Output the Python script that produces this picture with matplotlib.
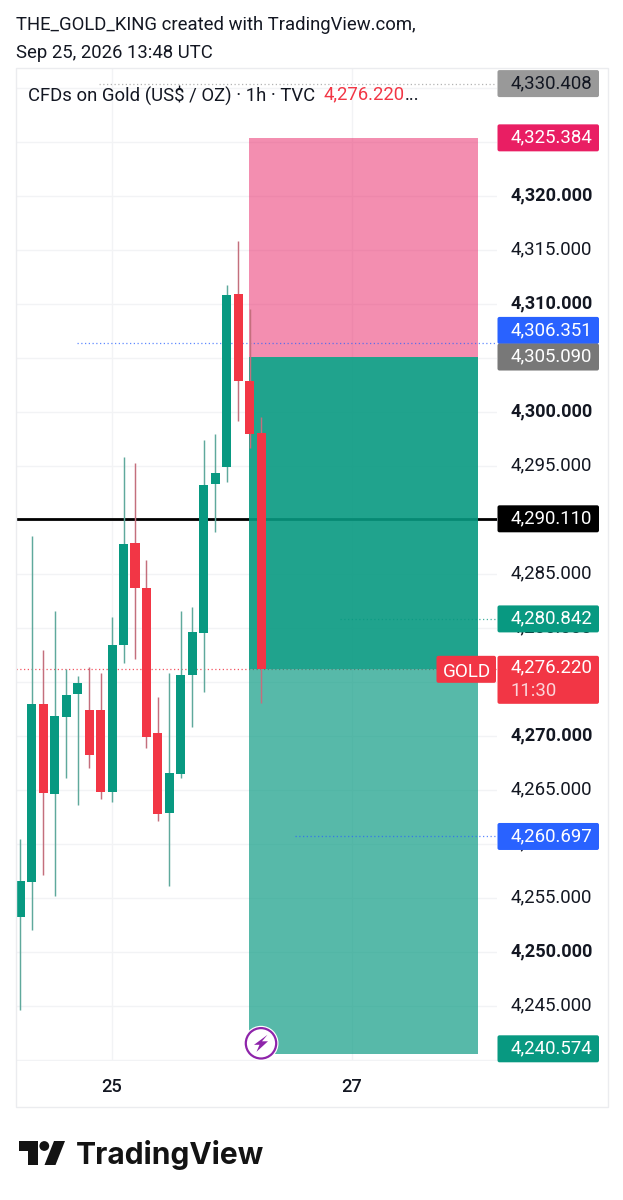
import matplotlib
matplotlib.use("Agg")
import matplotlib.pyplot as plt
from matplotlib.patches import FancyBboxPatch, Circle, Polygon, Rectangle
from matplotlib.transforms import ScaledTranslation

plt.rcParams['font.family'] = ['Roboto', 'DejaVu Sans']

# ---- data ----
opens  = [4253.24,4256.45,4272.94,4264.66,4271.73,4273.89,4272.38,4272.38,4264.81,4278.43,4287.84,
          4283.73,4270.25,4262.90,4266.48,4275.68,4279.51,4293.33,4294.88,4310.93,4302.90,4298.02]
highs  = [4260.49,4288.52,4277.94,4281.60,4276.18,4275.58,4276.42,4275.86,4280.99,4295.81,4295.31,
          4286.30,4273.58,4275.81,4281.60,4281.91,4297.41,4297.93,4311.73,4315.83,4309.54,4299.56]
lows   = [4244.63,4252.01,4257.10,4255.21,4266.08,4263.58,4267.01,4264.14,4263.89,4276.73,4277.13,
          4268.92,4262.16,4256.14,4266.08,4270.86,4274.07,4288.92,4293.49,4299.19,4296.64,4273.03]
closes = [4256.57,4272.99,4264.75,4271.85,4273.82,4274.91,4268.24,4264.81,4278.40,4287.78,4283.67,
          4269.91,4262.75,4266.57,4275.65,4279.63,4293.24,4294.32,4310.83,4302.87,4297.99,4276.22]
tool_left, tool_right = 19.94, 39.9
tool_top, tool_entry, tool_current, tool_bottom = 4325.384, 4305.090, 4276.220, 4240.574
hline_level = 4290.110
price_ticks = [4240 + 5 * i for i in range(19)]
bold_ticks = [4250, 4270, 4300, 4310, 4320]
hidden_ticks = [4240, 4275, 4290, 4305, 4325, 4330]   # covered by the price tags in the reference
date_positions = [8, 28.88]
date_labels = ['25', '27']
# level, label bg, text colour, line colour, line start (bar index), label shift in px
level_tags = [
    (4330.408, '#999999', '#131722', '#9a9a9a', 6.86, 0),
    (4325.384, '#E91E63', '#ffffff', None, None, 0),
    (4306.351, '#2962FF', '#ffffff', '#2962FF', 4.94, -13),
    (4305.090, '#787878', '#ffffff', None, None, 0),
    (4290.110, '#000000', '#ffffff', None, None, 0),
    (4280.842, '#089981', '#ffffff', '#089981', 27.9, 0),
    (4260.697, '#2962FF', '#ffffff', '#2962FF', 23.95, 0),
    (4240.574, '#089981', '#ffffff', None, None, -5),
]
last_price = 4276.220

GREEN, RED = '#089981', '#F23645'
GREEN_W, RED_W = '#5fa99c', '#c46f7d'

fig = plt.figure(figsize=(6.23, 12), dpi=100, facecolor='white')
W, H = 623, 1200
def axbox(l, t, r, b):
    return [l / W, 1 - b / H, (r - l) / W, (b - t) / H]

PX_PER_UNIT, X0, DX = 10.8, 20.3, 11.47
ax = fig.add_axes(axbox(16, 68, 497, 1061))
ax.set_xlim((16 - X0) / DX, (497 - X0) / DX)
ax.set_ylim(4290 - (1061 - 520) / PX_PER_UNIT, 4290 + (520 - 68) / PX_PER_UNIT)
ax.set_axisbelow(True)
for s in ax.spines.values():
    s.set_visible(False)
ax.yaxis.tick_right()
ax.set_yticks(price_ticks)
ax.set_yticklabels(['' if t in hidden_ticks else f'{t:,.3f}' for t in price_ticks], fontsize=13.4, color='#131722')
for t, lab in zip(price_ticks, ax.get_yticklabels()):
    if t in bold_ticks:
        lab.set_fontweight('bold')
        lab.set_fontsize(13.1)
ax.set_xticks(date_positions)
ax.set_xticklabels(date_labels, fontsize=13.2, color='#131722', fontweight='medium')
ax.tick_params(axis='both', length=0)
ax.tick_params(axis='y', pad=10)
ax.tick_params(axis='x', pad=12)
ax.grid(True, color='#F2F3F5', linewidth=1)
lift = ScaledTranslation(0, 3 / 100, fig.dpi_scale_trans)
for tk in ax.yaxis.get_major_ticks():
    tk.label2.set_transform(tk.label2.get_transform() + lift)

# horizontal black level and price tool
ax.axhline(hline_level, color='black', linewidth=2.0, zorder=1.5)
ax.fill_between([tool_left, tool_right], tool_entry, tool_top, color='#E91E63', alpha=0.5, lw=0, zorder=2)
ax.fill_between([tool_left, tool_right], tool_current, tool_entry, color='#089981', alpha=0.9, lw=0, zorder=2)
ax.fill_between([tool_left, tool_right], tool_bottom, tool_current, color='#089981', alpha=0.68, lw=0, zorder=2)

# dotted level lines
for lvl, _, _, lc, start, _ in level_tags:
    if lc:
        ax.plot([start, ax.get_xlim()[1]], [lvl, lvl], color=lc, lw=0.9, alpha=0.75, ls=(0, (1, 2)), zorder=2.2)
ax.axhline(last_price, color=RED, lw=0.9, alpha=0.85, ls=(0, (1, 2)), zorder=1.8)

# candles
xs = list(range(len(opens)))
for i in xs:
    up = closes[i] >= opens[i]
    ax.vlines(i, lows[i], highs[i], color=GREEN_W if up else RED_W, lw=1.05, zorder=3)
    ax.bar(i, abs(closes[i] - opens[i]), bottom=min(opens[i], closes[i]), width=0.79,
           color=GREEN if up else RED, lw=0, zorder=3.2)

# overlay in pixel coordinates
ov = fig.add_axes([0, 0, 1, 1], facecolor='none')
ov.set_xlim(0, W); ov.set_ylim(H, 0); ov.axis('off')
def ypx(p):
    return 520 - (p - 4290) * PX_PER_UNIT

# panel border
ov.add_patch(Rectangle((15.5, 68), 592, 1039, fill=False, ec='#EBECEF', lw=1))

def tag(x0, x1, y0, y1, col, z=5):
    ov.add_patch(FancyBboxPatch((x0 + 2, y0 + 2), x1 - x0 - 4, y1 - y0 - 4,
                                boxstyle='round,pad=2,rounding_size=2', fc=col, ec='none', zorder=z))

TAGFS = 13.4
for n, (lvl, bg, fg, _, _, shift) in enumerate(level_tags):
    y = ypx(lvl) + shift
    tag(497.5, 599, y - 13.5, y + 13.5, bg, 5 + n * 0.01)
    ov.text(592, y - 2.2, f'{lvl:,.3f}', color=fg, fontsize=TAGFS, ha='right', va='center_baseline', zorder=6)

# last price + symbol tag
y = ypx(last_price)
tag(436.5, 496, y - 13, y + 14, RED)
ov.text(466.5, y + 1, 'GOLD', color='white', fontsize=13.6, ha='center', va='center_baseline', zorder=6)
tag(497.5, 599, y - 13, y + 35, RED)
ov.text(592, y - 3, f'{last_price:,.3f}', color='white', fontsize=TAGFS, ha='right', va='center_baseline', zorder=6)
ov.text(511, y + 20, '11:30', color='#fbd5da', fontsize=TAGFS, ha='left', va='center_baseline', zorder=6)

# header
HFS = 13.3
ov.text(16, 23.5, 'THE_GOLD_KING created with TradingView.com,', fontsize=HFS, color='#131722', va='center_baseline')
ov.text(16, 50.5, 'Sep 25, 2026 13:48 UTC', fontsize=HFS, color='#131722', va='center_baseline')
ov.text(28, 92.5, 'CFDs on Gold (US$ / OZ) · 1h · TVC', fontsize=HFS, color='#131722', va='center_baseline')
ov.text(323, 92.5, f'{last_price:,.3f}', fontsize=HFS, color=RED, va='center_baseline')
ov.text(405, 92.5, '...', fontsize=HFS, color='#131722', va='center_baseline')

# lightning badge
cx, cy = 261, 1043.3
ov.add_patch(Circle((cx, cy), 17.5, fc='white', ec='none', zorder=6))
ov.add_patch(Circle((cx, cy), 15.2, fc='white', ec='#8E24AA', lw=1.6, zorder=7))
ov.add_patch(Polygon([(cx + 6.5, cy - 8.5), (cx - 7, cy + 1.5), (cx - 1.5, cy + 1.5), (cx - 4.5, cy + 8.5),
                      (cx + 7, cy - 2), (cx + 1, cy - 2)], fc='#8E24AA', ec='none', zorder=8))

# logo
LOGO = '#131313'
ov.add_patch(Polygon([(18.5, 1141), (38, 1141), (38, 1165), (28, 1165), (28, 1151), (18.5, 1151)], fc=LOGO, ec='none'))
ov.add_patch(Circle((44.3, 1146), 4.9, fc=LOGO, ec='none'))
ov.add_patch(Polygon([(54, 1141), (65, 1141), (55.5, 1165), (44.5, 1165)], fc=LOGO, ec='none'))
ov.text(75.5, 1164, 'TradingView', fontsize=21.6, fontweight='bold', family=['Inter', 'Roboto', 'DejaVu Sans'],
        color=LOGO, va='baseline', ha='left')

fig.savefig('out.png', dpi=100)
